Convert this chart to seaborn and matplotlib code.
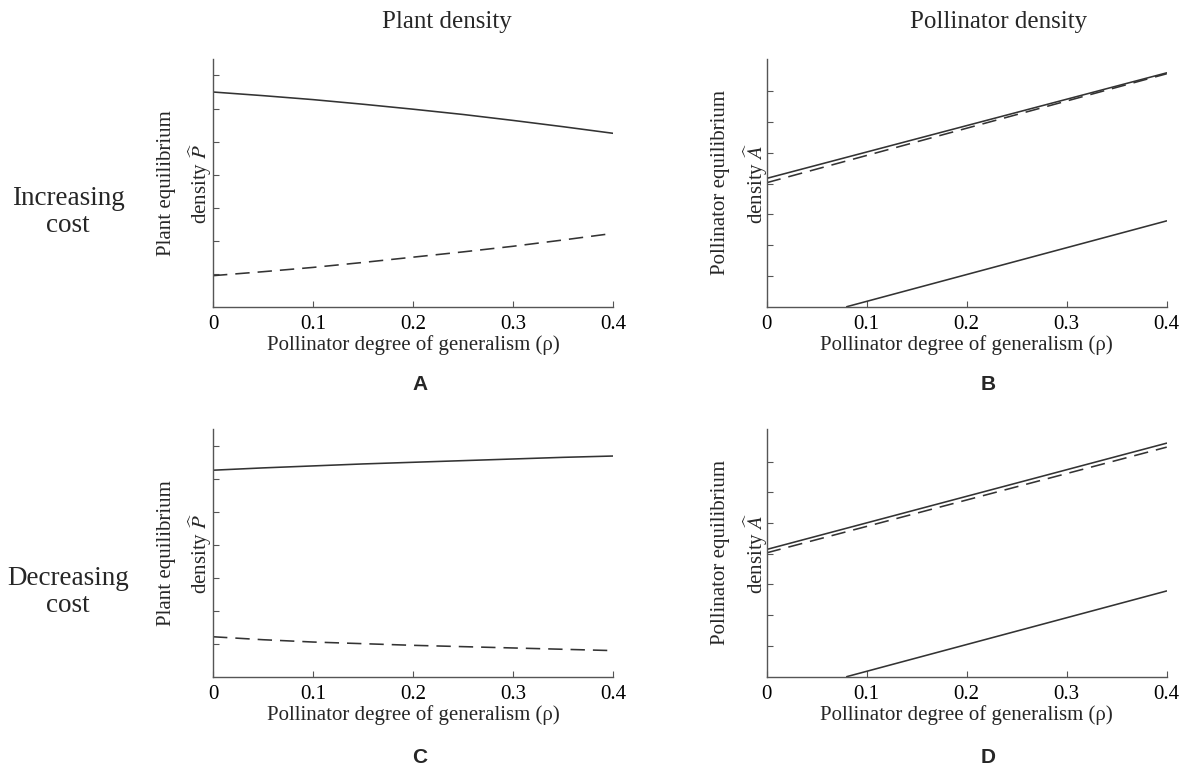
import matplotlib
matplotlib.use("Agg")
import matplotlib.pyplot as plt
import numpy as np
import pandas as pd
import seaborn as sns

# Pollinator degree of generalism (rho)
rho = [0.0, 0.05, 0.1, 0.15, 0.2, 0.25, 0.3, 0.35, 0.4]
rho_line = [0.0, 0.4]
rho_low = [0.08, 0.4]

# Increasing cost: plant equilibrium density
plant_inc_stable = [6.50, 6.39, 6.27, 6.13, 5.98, 5.82, 5.64, 5.45, 5.25]
plant_inc_unstable = [0.94, 1.06, 1.19, 1.34, 1.50, 1.66, 1.83, 2.02, 2.22]
# Increasing cost: pollinator equilibrium density
poll_inc_upper = [4.17, 7.60]
poll_inc_dashed = [4.03, 7.57]
poll_inc_lower = [0.00, 2.79]

# Decreasing cost: plant equilibrium density
plant_dec_stable = [6.26, 6.33, 6.39, 6.45, 6.50, 6.55, 6.60, 6.65, 6.69]
plant_dec_unstable = [1.21, 1.12, 1.05, 1.00, 0.95, 0.91, 0.87, 0.83, 0.79]
# Decreasing cost: pollinator equilibrium density
poll_dec_upper = [4.14, 7.60]
poll_dec_dashed = [4.03, 7.47]
poll_dec_lower = [0.00, 2.79]

x_ticks = [0, 0.1, 0.2, 0.3, 0.4]
x_ticklabels = ["0", "0.1", "0.2", "0.3", "0.4"]

sns.set_theme(style="ticks")
plt.rcParams["font.family"] = ["Liberation Serif", "DejaVu Serif"]
plt.rcParams["mathtext.fontset"] = "stix"

LINE = "#333333"
AXIS = "#555555"
FS = 15

fig = plt.figure(figsize=(11.92, 7.72), dpi=100)
axA = fig.add_axes([0.1787, 0.6027, 0.3356, 0.3209])
axB = fig.add_axes([0.6432, 0.6027, 0.3356, 0.3209])
axC = fig.add_axes([0.1787, 0.1235, 0.3356, 0.3204])
axD = fig.add_axes([0.6432, 0.1235, 0.3356, 0.3204])


def draw(ax, xs, ys, dashed=False):
    df = pd.DataFrame({"rho": xs, "value": ys})
    if dashed:
        sns.lineplot(data=df, x="rho", y="value", ax=ax, color=LINE,
                     linewidth=1.15, linestyle=(0, (9, 5)))
    else:
        sns.lineplot(data=df, x="rho", y="value", ax=ax, color=LINE,
                     linewidth=1.15)


def style(ax, ylabel, ymax, label_x):
    ax.set_xlim(0, 0.4)
    ax.set_ylim(0, ymax)
    ax.set_xticks(x_ticks)
    ax.set_xticklabels(x_ticklabels, fontsize=FS)
    ax.set_yticks(range(1, 8))
    ax.set_yticklabels([])
    ax.tick_params(direction="in", length=4, width=0.8, color=AXIS,
                   labelcolor="black", pad=6)
    sns.despine(ax=ax)
    for s in ("left", "bottom"):
        ax.spines[s].set_color(AXIS)
        ax.spines[s].set_linewidth(1.0)
    ax.set_xlabel("Pollinator degree of generalism (ρ)", fontsize=FS,
                  labelpad=1)
    ax.set_ylabel(ylabel, fontsize=FS, linespacing=1.5)
    ax.yaxis.set_label_coords(label_x, 0.5)


plant_label = "Plant equilibrium\ndensity $\\widehat{P}$"
poll_label = "Pollinator equilibrium\ndensity $\\widehat{A}$"

draw(axA, rho, plant_inc_stable)
draw(axA, rho, plant_inc_unstable, dashed=True)
style(axA, plant_label, 7.5, 0.002)

draw(axB, rho_line, poll_inc_upper)
draw(axB, rho_line, poll_inc_dashed, dashed=True)
draw(axB, rho_low, poll_inc_lower)
style(axB, poll_label, 8.05, 0.008)

draw(axC, rho, plant_dec_stable)
draw(axC, rho, plant_dec_unstable, dashed=True)
style(axC, plant_label, 7.5, 0.002)

draw(axD, rho_line, poll_dec_upper)
draw(axD, rho_line, poll_dec_dashed, dashed=True)
draw(axD, rho_low, poll_dec_lower)
style(axD, poll_label, 8.05, 0.008)

# Column and row headings
fig.text(0.375, 0.9715, "Plant density", fontsize=18, ha="center", va="center")
fig.text(0.838, 0.9715, "Pollinator density", fontsize=18, ha="center", va="center")
fig.text(0.057, 0.7254, "Increasing\ncost", fontsize=19.5, ha="center",
         va="center", linespacing=1.15)
fig.text(0.057, 0.2332, "Decreasing\ncost", fontsize=19.5, ha="center",
         va="center", linespacing=1.15)

# Panel letters
for x, y, letter in [(0.3523, 0.5013, "A"), (0.8289, 0.5013, "B"),
                     (0.3523, 0.0194, "C"), (0.8289, 0.0194, "D")]:
    fig.text(x, y, letter, fontsize=15, fontweight="bold", ha="center",
             va="center", family=["Liberation Sans", "DejaVu Sans"])

fig.savefig("out.png", dpi=100, facecolor="white")
